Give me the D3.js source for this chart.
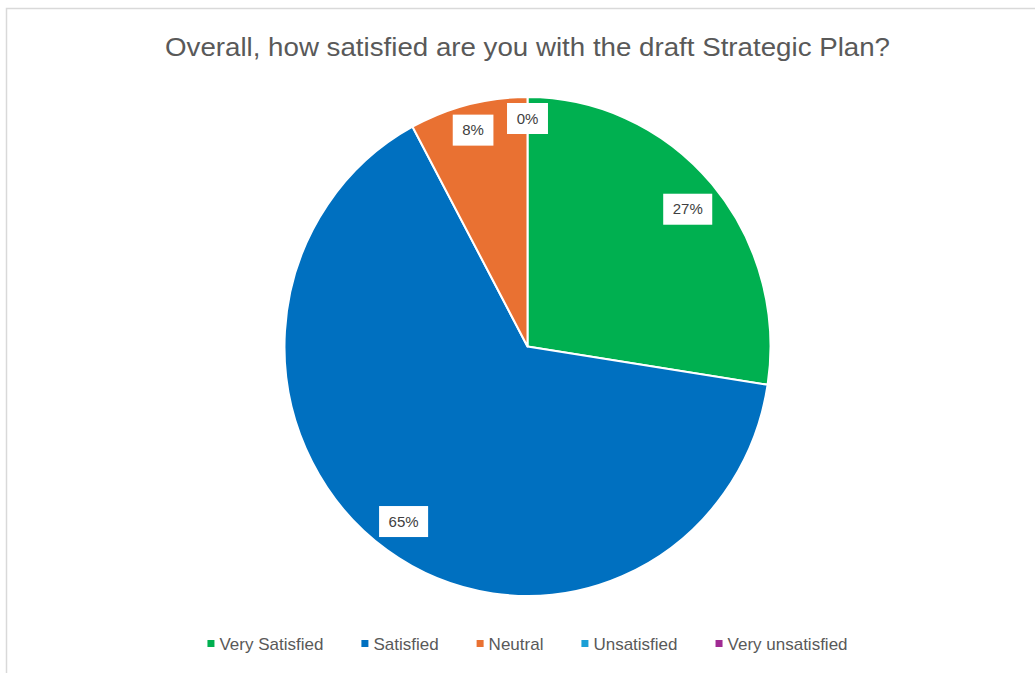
<!DOCTYPE html>
<html lang="en">
<head>
  <meta charset="utf-8">
  <title>Draft Strategic Plan satisfaction</title>
  <style>
    body { margin: 0; background: #fff; }
    svg { display: block; font-family: "Liberation Sans", Arial, sans-serif; }
  </style>
  <script src="https://d3js.org/d3.v7.min.js"></script>
</head>
<body>
  <div id="chart"></div>
  <script>
    // survey answers (counts)
    const categories = ["Very Satisfied", "Satisfied", "Neutral", "Unsatisfied", "Very unsatisfied"];
    const counts = [14, 33, 4, 0, 0];
    const colors = ["#00B050", "#0070C0", "#E97132", "#1B9FD6", "#A02B93"];
    const title = "Overall, how satisfied are you with the draft Strategic Plan?";

    const width = 1035, height = 673;
    const cx = 527.5, cy = 346.5;
    const rx = 243, ry = 249.5; // picture is slightly stretched vertically

    const svg = d3.select("#chart").append("svg")
      .attr("width", width)
      .attr("height", height);

    // chart area border (only top and left are visible in the crop)
    svg.append("rect")
      .attr("x", 6.5).attr("y", 8.5)
      .attr("width", width + 20).attr("height", height + 20)
      .attr("fill", "#fff")
      .attr("stroke", "#d9d9d9")
      .attr("stroke-width", 1.5);

    svg.append("text")
      .attr("x", cx).attr("y", 56)
      .attr("text-anchor", "middle")
      .attr("font-size", 26)
      .attr("fill", "#595959")
      .attr("textLength", 725)
      .attr("lengthAdjust", "spacingAndGlyphs")
      .text(title);

    const color = d3.scaleOrdinal().domain(categories).range(colors);
    const total = d3.sum(counts);
    const data = categories.map((c, i) => ({ name: c, value: counts[i] }));

    const pie = d3.pie().sort(null).value(d => d.value);
    const arcs = pie(data);
    const arc = d3.arc().innerRadius(0).outerRadius(rx);

    const g = svg.append("g")
      .attr("transform", `translate(${cx},${cy}) scale(1,${ry / rx})`);

    g.selectAll("path")
      .data(arcs.filter(d => d.value > 0))
      .join("path")
      .attr("d", arc)
      .attr("fill", d => color(d.data.name))
      .attr("stroke", "#fff")
      .attr("stroke-width", 2)
      .attr("stroke-linejoin", "round");

    // data labels, inside end, in white boxes
    const fmt = d3.format(".0%");
    const lab = svg.append("g");
    arcs.forEach(d => {
      const a = (d.startAngle + d.endAngle) / 2;
      const s = Math.sin(a), c = Math.cos(a);
      const item = lab.append("g");
      const t = item.append("text")
        .attr("text-anchor", "middle")
        .attr("dy", "0.35em")
        .attr("font-size", 15)
        .attr("fill", "#404040")
        .text(fmt(d.value / total));
      const tw = t.node().getComputedTextLength();
      const hw = tw / 2 + 9.5, hh = 15.5;
      item.insert("rect", "text")
        .attr("x", -hw).attr("y", -hh)
        .attr("width", hw * 2).attr("height", hh * 2)
        .attr("fill", "#fff");
      const R = 1 / Math.sqrt((s / rx) ** 2 + (c / ry) ** 2);
      const dist = R - 6 - (hw * Math.abs(s) + hh * Math.abs(c));
      item.attr("transform", `translate(${cx + dist * s},${cy - dist * c})`);
    });

    // legend
    const legend = svg.append("g").attr("transform", "translate(0,644)");
    const items = legend.selectAll("g").data(categories).join("g");
    items.append("rect")
      .attr("y", -4).attr("width", 7).attr("height", 7)
      .attr("fill", d => color(d));
    items.append("text")
      .attr("x", 12).attr("dy", "0.35em")
      .attr("font-size", 17)
      .attr("fill", "#595959")
      .text(d => d);
    const gap = 38;
    let x = 0;
    const offs = [];
    items.each(function () {
      offs.push(x);
      x += 12 + d3.select(this).select("text").node().getComputedTextLength() + gap;
    });
    const start = cx - (x - gap) / 2;
    items.attr("transform", (d, i) => `translate(${start + offs[i]},0)`);
  </script>
</body>
</html>
